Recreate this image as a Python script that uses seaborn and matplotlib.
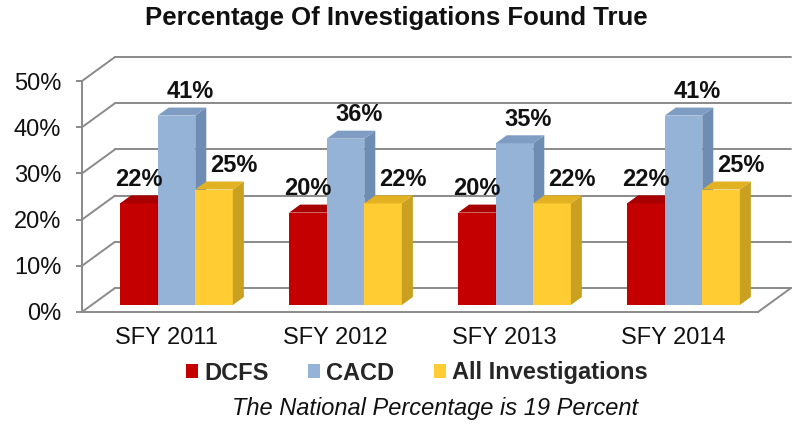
import matplotlib
matplotlib.use("Agg")
import matplotlib.pyplot as plt
import seaborn as sns
import pandas as pd
from matplotlib.lines import Line2D
from matplotlib.patches import Polygon, Patch
from matplotlib.transforms import IdentityTransform

# ---- data ----
categories = ["SFY 2011", "SFY 2012", "SFY 2013", "SFY 2014"]
series_names = ["DCFS", "CACD", "All Investigations"]
dcfs = [22, 20, 20, 22]
cacd = [41, 36, 35, 41]
all_inv = [25, 22, 22, 25]
y_ticks = [0, 10, 20, 30, 40, 50]
title = "Percentage Of Investigations Found True"
subtitle = "The National Percentage is 19 Percent"

front_colors = {"DCFS": "#C40000", "CACD": "#95B3D7", "All Investigations": "#FFCC33"}
side_colors = {"DCFS": "#8E0000", "CACD": "#6F8CB2", "All Investigations": "#C9A020"}
top_colors = {"DCFS": "#A80000", "CACD": "#7F9CC2", "All Investigations": "#E2B222"}
label_dx = {"DCFS": 0, "CACD": 14, "All Investigations": 20}

df = pd.DataFrame({
    "year": categories * 3,
    "series": sum([[s] * 4 for s in series_names], []),
    "value": dcfs + cacd + all_inv,
})

sns.set_theme(style="white")
plt.rcParams["font.family"] = ["Liberation Sans", "DejaVu Sans"]

W, H = 793, 425
fig = plt.figure(figsize=(W / 100, H / 100), dpi=100)

# front plane axes (floor front edge + y axis)
fl, fr, fb, ft = 82, 758, 312, 81
ax_front = fig.add_axes([fl / W, (H - fb) / H, (fr - fl) / W, (fb - ft) / H])
# bar plane axes
BX, BY = 10, 7
ax = fig.add_axes([(fl + BX) / W, (H - fb + BY) / H, (fr - fl) / W, (fb - ft) / H])

for a in (ax_front, ax):
    a.set_xlim(-0.5, 3.5)
    a.set_ylim(0, 50)
    a.patch.set_alpha(0)

ax.set_zorder(5)
ax_front.set_zorder(1)

sns.barplot(data=df, x="year", y="value", hue="series", palette=front_colors,
            width=0.667, saturation=1, ax=ax, legend=False, linewidth=0)
ax.set_xlim(-0.5, 3.5)
ax.set_ylim(0, 50)
ax.axis("off")

# front axes styling
grid_c = "#8A8A8A"
for s in ["top", "right"]:
    ax_front.spines[s].set_visible(False)
for s in ["left", "bottom"]:
    ax_front.spines[s].set_color(grid_c)
    ax_front.spines[s].set_linewidth(1.4)
ax_front.set_yticks(y_ticks)
ax_front.set_yticklabels([f"{v}%" for v in y_ticks], fontsize=17, color="#111111")
ax_front.set_xticks(range(len(categories)))
ax_front.set_xticklabels(categories, fontsize=17, color="#111111")
ax_front.set_xticks([-0.5, 0.5, 1.5, 2.5, 3.5], minor=True)
ax_front.tick_params(axis="x", which="major", length=0, pad=11)
ax_front.tick_params(axis="x", which="minor", length=6, width=1.4, color=grid_c, direction="out")
ax_front.tick_params(axis="y", length=4, width=1.4, color=grid_c, direction="out", pad=11, left=True)
ax_front.set_xlabel("")
ax_front.set_ylabel("")

fig.canvas.draw()

# walls and gridlines (3D look)
DX, DY = 33, 24
def fp(x, y):
    return ax_front.transData.transform((x, y))

lines_kw = dict(color=grid_c, lw=1.4, transform=IdentityTransform(), zorder=0.5)
for v in y_ticks:
    p0 = fp(-0.5, v)
    p1 = fp(3.5, v)
    fig.add_artist(Line2D([p0[0], p0[0] + DX], [p0[1], p0[1] + DY], **lines_kw))
    fig.add_artist(Line2D([p0[0] + DX, p1[0] + DX], [p0[1] + DY, p1[1] + DY], **lines_kw))
p = fp(3.5, 0)
fig.add_artist(Line2D([p[0], p[0] + DX], [p[1], p[1] + DY], **lines_kw))

# 3D faces of bars
dx, dy = 11, 8
bw = 0.667 / 3
bars = [pt for pt in ax.patches if pt.get_height() > 0]
for b in bars:
    x0, w, h = b.get_x(), b.get_width(), b.get_height()
    xc = x0 + w / 2
    cat = int(round(xc))
    idx = int(round((xc - cat) / bw)) + 1
    sname = series_names[idx]
    (xl, yb) = ax.transData.transform((x0, 0))
    (xr, yt) = ax.transData.transform((x0 + w, h))
    zo = 2 + xc
    b.set_zorder(zo)
    side = Polygon([(xr, yb), (xr + dx, yb + dy), (xr + dx, yt + dy), (xr, yt)],
                   closed=True, facecolor=side_colors[sname], edgecolor="none",
                   transform=IdentityTransform(), clip_on=False, zorder=zo)
    top = Polygon([(xl, yt), (xl + dx, yt + dy), (xr + dx, yt + dy), (xr, yt)],
                  closed=True, facecolor=top_colors[sname], edgecolor="none",
                  transform=IdentityTransform(), clip_on=False, zorder=zo)
    ax.add_patch(side)
    ax.add_patch(top)
    ax.annotate(f"{h:.0f}%", (xc, h), xytext=(label_dx[sname], 24), textcoords="offset pixels",
                ha="center", va="center", fontsize=17, fontweight="bold",
                color="#111111", zorder=20, annotation_clip=False)

fig.text(0.5, 1 - 18 / H, title, ha="center", va="center", fontsize=18.5,
         fontweight="bold", color="#111111")

handles = [Patch(facecolor=front_colors[s], edgecolor="none") for s in series_names]
fig.legend(handles, series_names, loc="center", bbox_to_anchor=(417 / W, 1 - 373 / H),
           ncol=3, frameon=False, handlelength=0.5, handleheight=0.5,
           handletextpad=0.25, columnspacing=1.7,
           prop={"weight": "bold", "size": 17})

fig.text(435 / W, 1 - 408 / H, subtitle, ha="center", va="center", fontsize=17,
         style="italic", color="#111111")

fig.savefig("out.png", dpi=100)
